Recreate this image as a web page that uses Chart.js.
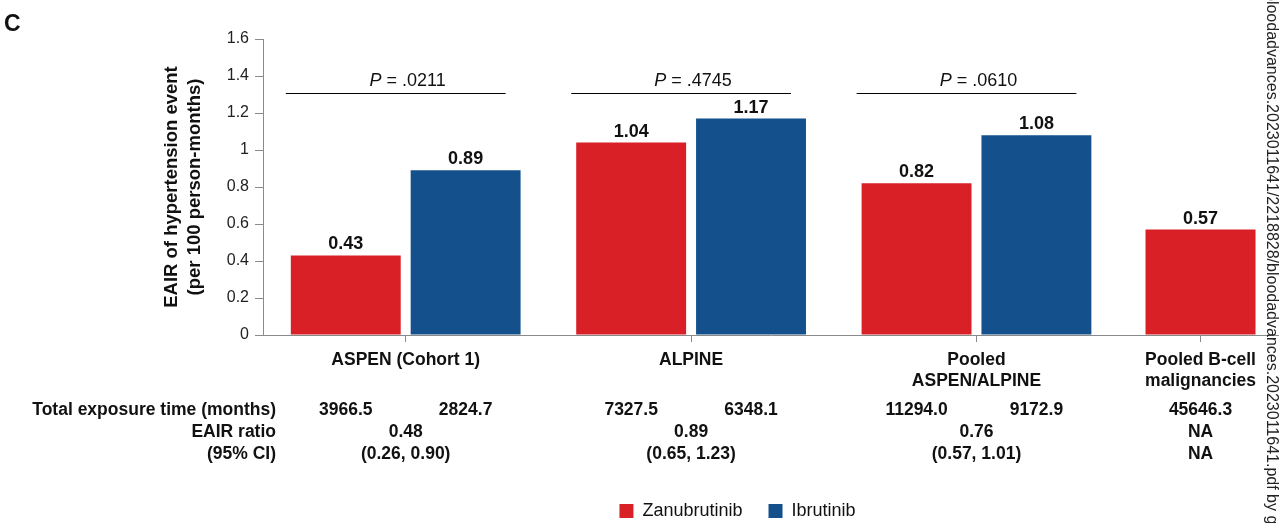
<!doctype html>
<html lang="en">
  <head>
    <meta charset="UTF-8" />
    <title>EAIR of hypertension event</title>
    <style>
      html,
      body {
        margin: 0;
        padding: 0;
        background: #fff;
      }
      #chart {
        display: block;
      }
    </style>
  </head>
  <body>
    <canvas id="chart" width="1279" height="523"></canvas>

    <script src="https://cdn.jsdelivr.net/npm/chart.js@4.4.1/dist/chart.umd.min.js"></script>
    <script>
      // --- data ---
      const categories = [
        ['ASPEN (Cohort 1)'],
        ['ALPINE'],
        ['Pooled', 'ASPEN/ALPINE'],
        ['Pooled B-cell', 'malignancies'],
      ];
      const zanubrutinib = [0.43, 1.04, 0.82, 0.57];
      const ibrutinib = [0.89, 1.17, 1.08, null];
      const exposureZanu = [3966.5, 7327.5, 11294.0, 45646.3];
      const exposureIbru = [2824.7, 6348.1, 9172.9, null];
      const eairRatio = ['0.48', '0.89', '0.76', 'NA'];
      const ratioCI = ['(0.26, 0.90)', '(0.65, 1.23)', '(0.57, 1.01)', 'NA'];
      const pValues = ['.0211', '.4745', '.0610', null];
      const rowLabels = ['Total exposure time (months)', 'EAIR ratio', '(95% CI)'];
      const yTicks = [0, 0.2, 0.4, 0.6, 0.8, 1, 1.2, 1.4, 1.6];

      // --- layout ---
      // group centres on the x axis; the single-bar group sits closer to its neighbour
      const groupPos = [0, 1, 2, 2.785];
      const pLineLevel = 1.31;
      const rowY = [410, 432.5, 454];
      const legendShift = 98;

      const RED = '#d92027';
      const BLUE = '#13508c';
      const FONT = '"Liberation Sans", Arial, Helvetica, sans-serif';

      Chart.defaults.font.family = FONT;
      Chart.defaults.color = '#111';

      const toPoints = vals => vals.map((v, i) => ({ x: groupPos[i], y: v }));

      const extras = {
        id: 'extras',
        afterLayout(chart) {
          // nudge the legend to the right of the canvas centre
          chart.legend.left += legendShift;
          chart.legend.right += legendShift;
        },
        afterDatasetsDraw(chart) {
          const { ctx, scales } = chart;
          const x = scales.x;
          const y = scales.y;
          ctx.save();

          // value labels on top of the bars
          ctx.font = `bold 18px ${FONT}`;
          ctx.fillStyle = '#111';
          ctx.textAlign = 'center';
          ctx.textBaseline = 'alphabetic';
          chart.data.datasets.forEach((ds, i) => {
            chart.getDatasetMeta(i).data.forEach((bar, j) => {
              const v = ds.data[j].y;
              if (v == null) return;
              ctx.fillText(v.toFixed(2), bar.x, bar.y - 6);
            });
          });

          // P-value bars above each comparison
          const lineY = Math.round(y.getPixelForValue(pLineLevel)) + 0.5;
          ctx.strokeStyle = '#000';
          ctx.lineWidth = 1.2;
          pValues.forEach((p, i) => {
            if (!p) return;
            ctx.beginPath();
            ctx.moveTo(x.getPixelForValue(groupPos[i] - 0.42), lineY);
            ctx.lineTo(x.getPixelForValue(groupPos[i] + 0.35), lineY);
            ctx.stroke();

            const cx = x.getPixelForValue(groupPos[i]) + 2;
            const lead = 'P';
            const rest = ' = ' + p;
            ctx.font = `italic 18px ${FONT}`;
            const w1 = ctx.measureText(lead).width;
            ctx.font = `18px ${FONT}`;
            const w2 = ctx.measureText(rest).width;
            const sx = cx - (w1 + w2) / 2;
            ctx.textAlign = 'left';
            ctx.font = `italic 18px ${FONT}`;
            ctx.fillText(lead, sx, lineY - 8);
            ctx.font = `18px ${FONT}`;
            ctx.fillText(rest, sx + w1, lineY - 8);
          });
          ctx.restore();
        },
        afterDraw(chart) {
          const { ctx, scales } = chart;
          const x = scales.x;
          const zMeta = chart.getDatasetMeta(0).data;
          const iMeta = chart.getDatasetMeta(1).data;
          ctx.save();

          // table under the axis
          ctx.font = `bold 17.5px ${FONT}`;
          ctx.fillStyle = '#111';
          ctx.textBaseline = 'middle';
          ctx.textAlign = 'right';
          rowLabels.forEach((t, r) => ctx.fillText(t, 276, rowY[r]));

          ctx.textAlign = 'center';
          categories.forEach((c, i) => {
            const cx = x.getPixelForValue(groupPos[i]);
            if (exposureZanu[i] != null) ctx.fillText(exposureZanu[i].toFixed(1), zMeta[i].x, rowY[0]);
            if (exposureIbru[i] != null) ctx.fillText(exposureIbru[i].toFixed(1), iMeta[i].x, rowY[0]);
            ctx.fillText(eairRatio[i], cx, rowY[1]);
            ctx.fillText(ratioCI[i], cx, rowY[2]);
          });

          // panel letter
          ctx.textAlign = 'left';
          ctx.textBaseline = 'alphabetic';
          ctx.font = `bold 23px ${FONT}`;
          ctx.fillText('C', 4, 31);

          // download stamp along the right edge
          ctx.translate(1271, 0);
          ctx.rotate(Math.PI / 2);
          ctx.font = `16px ${FONT}`;
          ctx.fillStyle = '#222';
          ctx.textBaseline = 'middle';
          ctx.fillText('bloodadvances.2023011641/2218828/bloodadvances.2023011641.pdf by guest', -8, 0);
          ctx.restore();
        },
      };

      new Chart(document.getElementById('chart'), {
        type: 'bar',
        data: {
          datasets: [
            {
              label: 'Zanubrutinib',
              data: toPoints(zanubrutinib),
              backgroundColor: RED,
              borderWidth: 0,
            },
            {
              label: 'Ibrutinib',
              data: toPoints(ibrutinib),
              backgroundColor: BLUE,
              borderWidth: 0,
            },
          ],
        },
        options: {
          responsive: false,
          animation: false,
          skipNull: true,
          categoryPercentage: 1.07,
          barPercentage: 0.917,
          maxBarThickness: 110,
          layout: { padding: { top: 39, left: 0, right: 0, bottom: 0 } },
          plugins: {
            tooltip: { enabled: false },
            legend: {
              position: 'bottom',
              maxHeight: 47,
              labels: {
                boxWidth: 14,
                boxHeight: 14,
                padding: 26,
                color: '#111',
                font: { size: 18 },
              },
            },
          },
          scales: {
            x: {
              type: 'linear',
              min: -0.5,
              max: 3.06,
              bounds: 'data',
              offset: false,
              afterBuildTicks: scale => {
                scale.ticks = groupPos.map(v => ({ value: v }));
              },
              afterFit: scale => {
                scale.height = 141;
              },
              border: { color: '#8a8a8a', width: 1 },
              grid: {
                offset: false,
                drawOnChartArea: false,
                tickLength: 7,
                color: '#8a8a8a',
              },
              ticks: {
                autoSkip: false,
                maxRotation: 0,
                padding: 7,
                color: '#111',
                font: { size: 17.5, weight: 'bold', lineHeight: 1.22 },
                callback: (value, index) => categories[index],
              },
            },
            y: {
              min: 0,
              max: 1.6,
              afterBuildTicks: scale => {
                scale.ticks = yTicks.map(v => ({ value: v }));
              },
              afterFit: scale => {
                scale.width = 263;
              },
              border: { color: '#8a8a8a', width: 1 },
              grid: {
                drawOnChartArea: false,
                tickLength: 8,
                color: '#8a8a8a',
              },
              ticks: {
                padding: 6,
                color: '#222',
                font: { size: 16 },
                callback: value => String(value),
              },
              title: {
                display: true,
                text: ['EAIR of hypertension event', '(per 100 person-months)'],
                color: '#111',
                font: { size: 18.5, weight: 'bold', lineHeight: 1.27 },
                padding: { top: 160, bottom: 0 },
              },
            },
          },
        },
        plugins: [extras],
      });
    </script>
  </body>
</html>
